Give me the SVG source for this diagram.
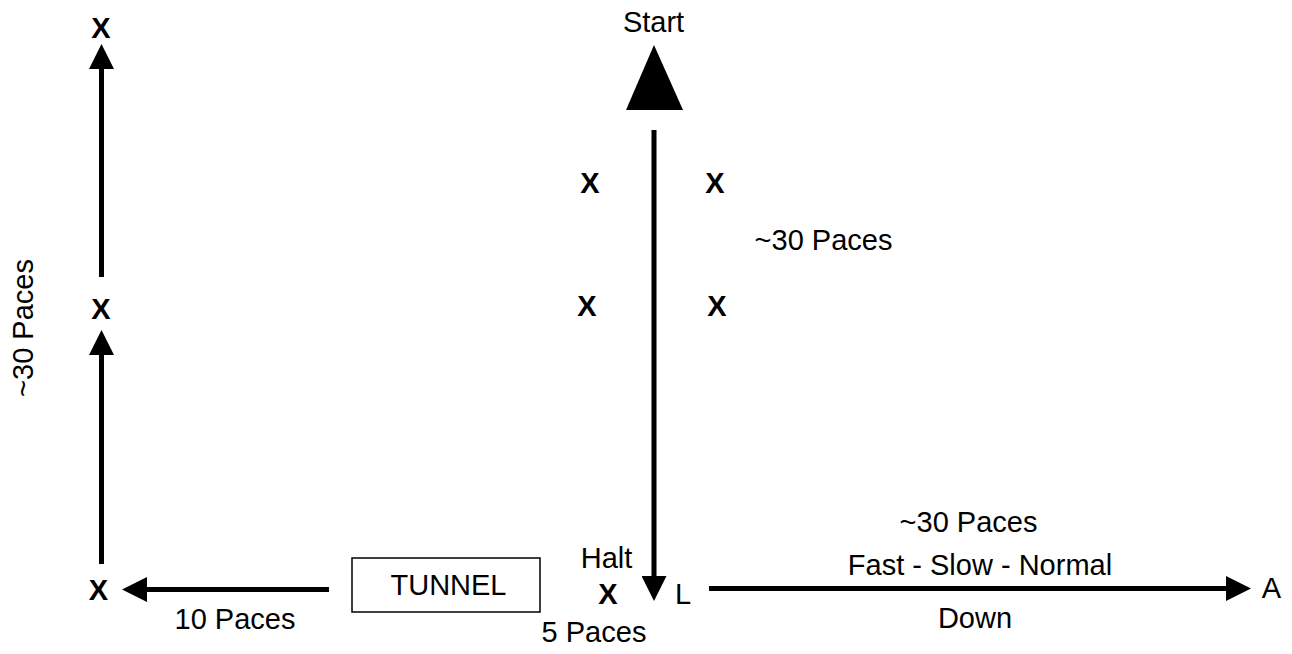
<svg xmlns="http://www.w3.org/2000/svg" width="1292" height="654" viewBox="0 0 1292 654">
  <style>
    text { font-family: "Liberation Sans", Arial, Helvetica, sans-serif; font-size: 29px; fill: #000; }
    .b { font-weight: bold; }
    .m { text-anchor: middle; }
    .ln { stroke: #000; stroke-width: 5; fill: none; }
  </style>
  <defs>
    <marker id="ah" viewBox="0 0 25 25" refX="0" refY="12.5" markerWidth="25" markerHeight="25" markerUnits="userSpaceOnUse" orient="auto">
      <path d="M0,0 L25,12.5 L0,25 Z" fill="#000"/>
    </marker>
  </defs>
  <rect width="1292" height="654" fill="#fff"/>

  <g id="connectors">
    <line class="ln" x1="101.5" y1="277" x2="101.5" y2="69" marker-end="url(#ah)"/>
    <line class="ln" x1="101.5" y1="564" x2="101.5" y2="355" marker-end="url(#ah)"/>
    <line class="ln" x1="329" y1="589.5" x2="147" y2="589.5" marker-end="url(#ah)"/>
    <line class="ln" x1="654" y1="130" x2="654" y2="576" marker-end="url(#ah)"/>
    <line class="ln" x1="709" y1="588.5" x2="1226" y2="588.5" marker-end="url(#ah)"/>
  </g>

  <g id="start">
    <text class="m" x="653.5" y="32">Start</text>
    <polygon points="654,45 626,110 683,110" fill="#000"/>
  </g>

  <g id="x-left-top"><text class="b m" x="101" y="37.5">X</text></g>
  <g id="x-left-mid"><text class="b m" x="101" y="318.5">X</text></g>
  <g id="x-left-bottom"><text class="b m" x="98.5" y="600">X</text></g>
  <g id="label-left-30"><text class="m" transform="translate(33,328) rotate(-90)">~30 Paces</text></g>
  <g id="label-10"><text class="m" x="235" y="629">10 Paces</text></g>

  <g id="tunnel">
    <rect x="352" y="558" width="188" height="54" fill="#fff" stroke="#000" stroke-width="1.5"/>
    <text class="m" x="448.5" y="595">TUNNEL</text>
  </g>

  <g id="cones">
    <text class="b m" x="590" y="193">X</text>
    <text class="b m" x="715" y="193">X</text>
    <text class="b m" x="587" y="316">X</text>
    <text class="b m" x="717" y="316">X</text>
  </g>
  <g id="label-center-30"><text class="m" x="823.5" y="250">~30 Paces</text></g>

  <g id="halt">
    <text class="m" x="606.5" y="568">Halt</text>
    <text class="b m" x="608" y="604">X</text>
  </g>
  <g id="label-L"><text x="675" y="604">L</text></g>
  <g id="label-5"><text class="m" x="594" y="642">5 Paces</text></g>

  <g id="label-right">
    <text class="m" x="968.5" y="532">~30 Paces</text>
    <text class="m" x="980" y="575">Fast - Slow - Normal</text>
    <text class="m" x="975" y="628">Down</text>
  </g>
  <g id="label-A"><text class="m" x="1271.5" y="598">A</text></g>
</svg>
